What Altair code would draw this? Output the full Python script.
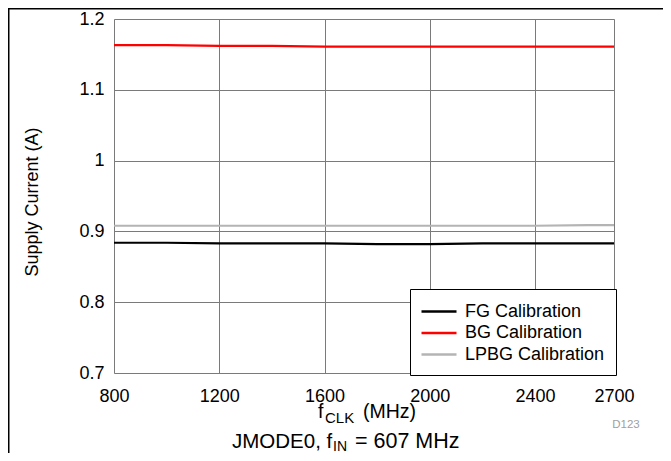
import altair as alt
import pandas as pd

# ---- data ----
freq = [800, 1000, 1200, 1400, 1600, 1800, 2000, 2200, 2400, 2600, 2700]
fg_cal = [0.884, 0.884, 0.883, 0.883, 0.883, 0.882, 0.882, 0.883, 0.883, 0.883, 0.883]
bg_cal = [1.163, 1.163, 1.162, 1.162, 1.161, 1.161, 1.161, 1.161, 1.161, 1.161, 1.161]
lpbg_cal = [0.908, 0.908, 0.908, 0.908, 0.908, 0.908, 0.908, 0.908, 0.908, 0.909, 0.909]
series_names = ["FG Calibration", "BG Calibration", "LPBG Calibration"]
series_colors = ["#000000", "#ff0000", "#b4b4b4"]
x_ticks = [800, 1200, 1600, 2000, 2400, 2700]
y_ticks = [0.7, 0.8, 0.9, 1.0, 1.1, 1.2]

rows = []
for name, vals in zip(series_names, [fg_cal, bg_cal, lpbg_cal]):
    for f, v in zip(freq, vals):
        rows.append({"freq": f, "current": v, "series": name})
df = pd.DataFrame(rows)

W, H = 500, 354
PAD = {"left": 106, "top": 11, "right": 49, "bottom": 80}
FONT = "Liberation Sans"

lines = alt.Chart(df).mark_line(strokeWidth=2.2).encode(
    x=alt.X("freq:Q",
            scale=alt.Scale(domain=[800, 2700], nice=False, zero=False),
            axis=alt.Axis(values=x_ticks, title=None, format="d", labelFontSize=18,
                          labelFont=FONT, labelColor="black", domain=False, ticks=False,
                          labelPadding=14, labelFlush=False, labelOverlap=False, grid=True,
                          gridColor="#7a7a7a", gridWidth=1)),
    y=alt.Y("current:Q",
            scale=alt.Scale(domain=[0.7, 1.2], nice=False, zero=False),
            axis=alt.Axis(values=y_ticks, title=None, format="~g", labelFontSize=18,
                          labelFont=FONT, labelColor="black", domain=False, ticks=False,
                          labelPadding=10, labelOverlap=False, grid=True,
                          gridColor="#7a7a7a", gridWidth=1)),
    color=alt.Color("series:N",
                    scale=alt.Scale(domain=series_names, range=series_colors),
                    sort=series_names,
                    legend=alt.Legend(orient="none", legendX=296, legendY=270, title=None,
                                      symbolType="M-1.1,0H2.4", symbolSize=400,
                                      symbolStrokeWidth=2.5, labelFontSize=18,
                                      labelFont=FONT, labelColor="black", labelOffset=21,
                                      rowPadding=0.5, padding=11, strokeColor="black",
                                      fillColor="white", cornerRadius=0)),
)

def txt(text, x, y, size=18, align="left", baseline="alphabetic", angle=0, color="black"):
    kw = dict(align=align, baseline=baseline, fontSize=size, font=FONT, color=color)
    if angle:
        kw["angle"] = angle
    return alt.Chart(pd.DataFrame({"t": [text]})).mark_text(**kw).encode(
        text="t:N", x=alt.value(x), y=alt.value(y))

annotations = [
    txt("Supply Current (A)", -81, 183, size=18, align="center", baseline="middle", angle=270),
    txt("f", 204, 399, size=19.5),
    txt("CLK", 211, 404, size=15),
    txt("(MHz)", 249, 399, size=19.5),
    txt("JMODE0, f", 118, 429, size=20.5),
    txt("IN", 219, 432, size=14),
    txt("= 607 MHz", 241, 429, size=21.5),
    txt("D123", 512, 406, size=11.5, align="center", baseline="middle", color="#a0a0a0"),
]

frame_left = alt.Chart(pd.DataFrame({"a": [0]})).mark_rule(color="black", strokeWidth=1.5).encode(
    x=alt.value(-105.25), y=alt.value(-11), y2=alt.value(434))
frame_top = alt.Chart(pd.DataFrame({"a": [0]})).mark_rule(color="black", strokeWidth=1.5).encode(
    x=alt.value(-106), x2=alt.value(549), y=alt.value(-10.25))

chart = alt.layer(lines, *annotations, frame_left, frame_top).properties(
    width=W, height=H,
    autosize=alt.AutoSizeParams(type="none"),
    padding=PAD,
).configure_view(stroke="black", strokeWidth=3).configure_legend(
    strokeWidth=2
).configure(background="white")

chart.save("out.html", embed_options={"renderer": "svg", "actions": False})
